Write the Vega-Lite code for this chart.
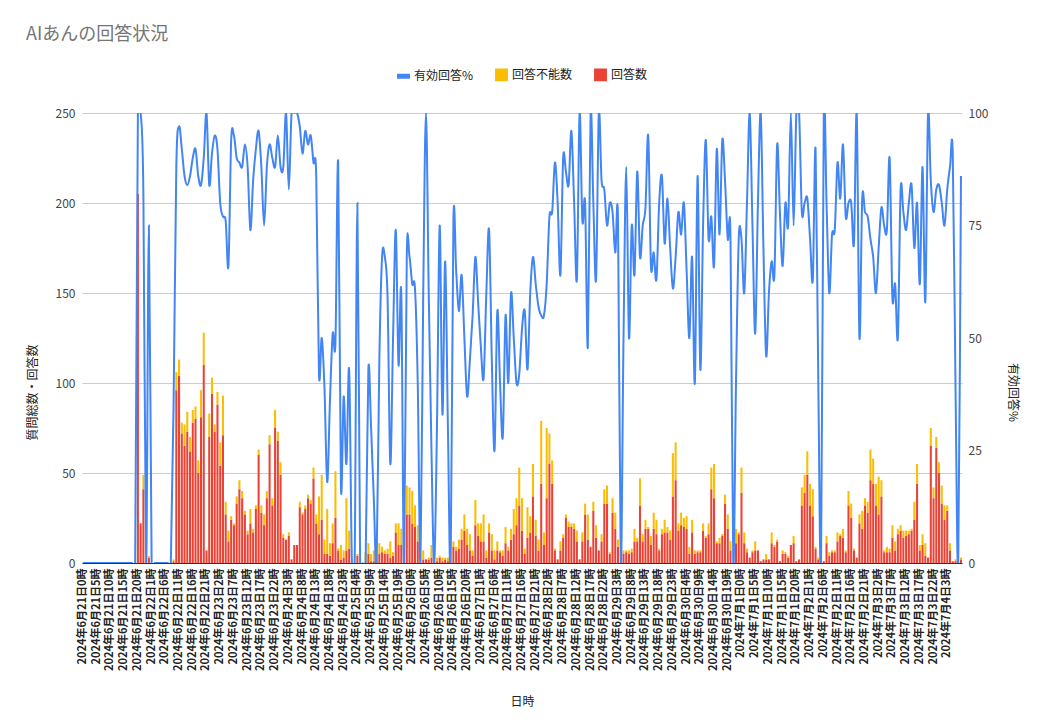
{
  "$schema": "https://vega.github.io/schema/vega-lite/v6.json",
  "width": 880,
  "height": 450,
  "autosize": "none",
  "padding": {"left": 82, "top": 113, "right": 85, "bottom": 158},
  "background": "white",
  "title": {
    "text": "AIあんの回答状況",
    "anchor": "start",
    "frame": "bounds",
    "fontSize": 18,
    "fontWeight": "normal",
    "color": "#757575",
    "offset": 24
  },
  "data": {
    "values": [
      {"日時": "2024年6月21日0時", "回答数": 0, "回答不能数": 0, "有効回答%": 0},
      {"日時": "2024年6月21日1時", "回答数": 0, "回答不能数": 0, "有効回答%": 0},
      {"日時": "2024年6月21日2時", "回答数": 0, "回答不能数": 0, "有効回答%": 0},
      {"日時": "2024年6月21日3時", "回答数": 0, "回答不能数": 0, "有効回答%": 0},
      {"日時": "2024年6月21日4時", "回答数": 0, "回答不能数": 0, "有効回答%": 0},
      {"日時": "2024年6月21日5時", "回答数": 0, "回答不能数": 0, "有効回答%": 0},
      {"日時": "2024年6月21日6時", "回答数": 0, "回答不能数": 0, "有効回答%": 0},
      {"日時": "2024年6月21日7時", "回答数": 0, "回答不能数": 0, "有効回答%": 0},
      {"日時": "2024年6月21日8時", "回答数": 0, "回答不能数": 0, "有効回答%": 0},
      {"日時": "2024年6月21日9時", "回答数": 0, "回答不能数": 0, "有効回答%": 0},
      {"日時": "2024年6月21日10時", "回答数": 0, "回答不能数": 0, "有効回答%": 0},
      {"日時": "2024年6月21日11時", "回答数": 0, "回答不能数": 0, "有効回答%": 0},
      {"日時": "2024年6月21日12時", "回答数": 0, "回答不能数": 0, "有効回答%": 0},
      {"日時": "2024年6月21日13時", "回答数": 0, "回答不能数": 0, "有効回答%": 0},
      {"日時": "2024年6月21日14時", "回答数": 0, "回答不能数": 0, "有効回答%": 0},
      {"日時": "2024年6月21日15時", "回答数": 0, "回答不能数": 0, "有効回答%": 0},
      {"日時": "2024年6月21日16時", "回答数": 0, "回答不能数": 0, "有効回答%": 0},
      {"日時": "2024年6月21日17時", "回答数": 0, "回答不能数": 0, "有効回答%": 0},
      {"日時": "2024年6月21日18時", "回答数": 0, "回答不能数": 0, "有効回答%": 0},
      {"日時": "2024年6月21日19時", "回答数": 0, "回答不能数": 0, "有効回答%": 0},
      {"日時": "2024年6月21日20時", "回答数": 205, "回答不能数": 0, "有効回答%": 100},
      {"日時": "2024年6月21日21時", "回答数": 22, "回答不能数": 0, "有効回答%": 100},
      {"日時": "2024年6月21日22時", "回答数": 41, "回答不能数": 8, "有効回答%": 82},
      {"日時": "2024年6月21日23時", "回答数": 0, "回答不能数": 0, "有効回答%": 0},
      {"日時": "2024年6月22日0時", "回答数": 3, "回答不能数": 1, "有効回答%": 75},
      {"日時": "2024年6月22日1時", "回答数": 0, "回答不能数": 0, "有効回答%": 0},
      {"日時": "2024年6月22日2時", "回答数": 0, "回答不能数": 0, "有効回答%": 0},
      {"日時": "2024年6月22日3時", "回答数": 0, "回答不能数": 0, "有効回答%": 0},
      {"日時": "2024年6月22日4時", "回答数": 0, "回答不能数": 0, "有効回答%": 0},
      {"日時": "2024年6月22日5時", "回答数": 0, "回答不能数": 0, "有効回答%": 0},
      {"日時": "2024年6月22日6時", "回答数": 0, "回答不能数": 0, "有効回答%": 0},
      {"日時": "2024年6月22日7時", "回答数": 0, "回答不能数": 0, "有効回答%": 0},
      {"日時": "2024年6月22日8時", "回答数": 0, "回答不能数": 0, "有効回答%": 0},
      {"日時": "2024年6月22日9時", "回答数": 1, "回答不能数": 1, "有効回答%": 35},
      {"日時": "2024年6月22日10時", "回答数": 96, "回答不能数": 10, "有効回答%": 88},
      {"日時": "2024年6月22日11時", "回答数": 104, "回答不能数": 9, "有効回答%": 97},
      {"日時": "2024年6月22日12時", "回答数": 72, "回答不能数": 6, "有効回答%": 92},
      {"日時": "2024年6月22日13時", "回答数": 65, "回答不能数": 12, "有効回答%": 86},
      {"日時": "2024年6月22日14時", "回答数": 73, "回答不能数": 11, "有効回答%": 84},
      {"日時": "2024年6月22日15時", "回答数": 62, "回答不能数": 8, "有効回答%": 86},
      {"日時": "2024年6月22日16時", "回答数": 78, "回答不能数": 7, "有効回答%": 90},
      {"日時": "2024年6月22日17時", "回答数": 80, "回答不能数": 7, "有効回答%": 92},
      {"日時": "2024年6月22日18時", "回答数": 50, "回答不能数": 7, "有効回答%": 86},
      {"日時": "2024年6月22日19時", "回答数": 81, "回答不能数": 15, "有効回答%": 84},
      {"日時": "2024年6月22日20時", "回答数": 110, "回答不能数": 18, "有効回答%": 90},
      {"日時": "2024年6月22日21時", "回答数": 7, "回答不能数": 0, "有効回答%": 100},
      {"日時": "2024年6月22日22時", "回答数": 70, "回答不能数": 13, "有効回答%": 84},
      {"日時": "2024年6月22日23時", "回答数": 94, "回答不能数": 9, "有効回答%": 91},
      {"日時": "2024年6月23日0時", "回答数": 73, "回答不能数": 4, "有効回答%": 95},
      {"日時": "2024年6月23日1時", "回答数": 88, "回答不能数": 7, "有効回答%": 92},
      {"日時": "2024年6月23日2時", "回答数": 54, "回答不能数": 13, "有効回答%": 80},
      {"日時": "2024年6月23日3時", "回答数": 71, "回答不能数": 22, "有効回答%": 77},
      {"日時": "2024年6月23日4時", "回答数": 27, "回答不能数": 7, "有効回答%": 76},
      {"日時": "2024年6月23日5時", "回答数": 12, "回答不能数": 6, "有効回答%": 66},
      {"日時": "2024年6月23日6時", "回答数": 24, "回答不能数": 2, "有効回答%": 94},
      {"日時": "2024年6月23日7時", "回答数": 21, "回答不能数": 1, "有効回答%": 95},
      {"日時": "2024年6月23日8時", "回答数": 33, "回答不能数": 4, "有効回答%": 90},
      {"日時": "2024年6月23日9時", "回答数": 41, "回答不能数": 5, "有効回答%": 89},
      {"日時": "2024年6月23日10時", "回答数": 36, "回答不能数": 4, "有効回答%": 88},
      {"日時": "2024年6月23日11時", "回答数": 27, "回答不能数": 2, "有効回答%": 93},
      {"日時": "2024年6月23日12時", "回答数": 16, "回答不能数": 2, "有効回答%": 88},
      {"日時": "2024年6月23日13時", "回答数": 22, "回答不能数": 8, "有効回答%": 74},
      {"日時": "2024年6月23日14時", "回答数": 17, "回答不能数": 2, "有効回答%": 85},
      {"日時": "2024年6月23日15時", "回答数": 30, "回答不能数": 2, "有効回答%": 92},
      {"日時": "2024年6月23日16時", "回答数": 60, "回答不能数": 3, "有効回答%": 96},
      {"日時": "2024年6月23日17時", "回答数": 28, "回答不能数": 4, "有効回答%": 88},
      {"日時": "2024年6月23日18時", "回答数": 21, "回答不能数": 6, "有効回答%": 75},
      {"日時": "2024年6月23日19時", "回答数": 36, "回答不能数": 4, "有効回答%": 88},
      {"日時": "2024年6月23日20時", "回答数": 66, "回答不能数": 5, "有効回答%": 93},
      {"日時": "2024年6月23日21時", "回答数": 32, "回答不能数": 4, "有効回答%": 90},
      {"日時": "2024年6月23日22時", "回答数": 75, "回答不能数": 10, "有効回答%": 88},
      {"日時": "2024年6月23日23時", "回答数": 68, "回答不能数": 5, "有効回答%": 95},
      {"日時": "2024年6月24日0時", "回答数": 49, "回答不能数": 7, "有効回答%": 88},
      {"日時": "2024年6月24日1時", "回答数": 14, "回答不能数": 2, "有効回答%": 88},
      {"日時": "2024年6月24日2時", "回答数": 13, "回答不能数": 0, "有効回答%": 100},
      {"日時": "2024年6月24日3時", "回答数": 15, "回答不能数": 2, "有効回答%": 83},
      {"日時": "2024年6月24日4時", "回答数": 2, "回答不能数": 0, "有効回答%": 100},
      {"日時": "2024年6月24日5時", "回答数": 10, "回答不能数": 0, "有効回答%": 100},
      {"日時": "2024年6月24日6時", "回答数": 10, "回答不能数": 0, "有効回答%": 100},
      {"日時": "2024年6月24日7時", "回答数": 31, "回答不能数": 3, "有効回答%": 97},
      {"日時": "2024年6月24日8時", "回答数": 27, "回答不能数": 1, "有効回答%": 91},
      {"日時": "2024年6月24日9時", "回答数": 30, "回答不能数": 2, "有効回答%": 96},
      {"日時": "2024年6月24日10時", "回答数": 36, "回答不能数": 2, "有効回答%": 93},
      {"日時": "2024年6月24日11時", "回答数": 33, "回答不能数": 2, "有効回答%": 95},
      {"日時": "2024年6月24日12時", "回答数": 47, "回答不能数": 6, "有効回答%": 89},
      {"日時": "2024年6月24日13時", "回答数": 22, "回答不能数": 5, "有効回答%": 86},
      {"日時": "2024年6月24日14時", "回答数": 16, "回答不能数": 21, "有効回答%": 42},
      {"日時": "2024年6月24日15時", "回答数": 24, "回答不能数": 25, "有効回答%": 50},
      {"日時": "2024年6月24日16時", "回答数": 5, "回答不能数": 8, "有効回答%": 39},
      {"日時": "2024年6月24日17時", "回答数": 5, "回答不能数": 25, "有効回答%": 18},
      {"日時": "2024年6月24日18時", "回答数": 4, "回答不能数": 7, "有効回答%": 36},
      {"日時": "2024年6月24日19時", "回答数": 11, "回答不能数": 11, "有効回答%": 51},
      {"日時": "2024年6月24日20時", "回答数": 25, "回答不能数": 26, "有効回答%": 49},
      {"日時": "2024年6月24日21時", "回答数": 7, "回答不能数": 1, "有効回答%": 89},
      {"日時": "2024年6月24日22時", "回答数": 2, "回答不能数": 8, "有効回答%": 17},
      {"日時": "2024年6月24日23時", "回答数": 3, "回答不能数": 4, "有効回答%": 37},
      {"日時": "2024年6月25日0時", "回答数": 7, "回答不能数": 29, "有効回答%": 22},
      {"日時": "2024年6月25日1時", "回答数": 8, "回答不能数": 10, "有効回答%": 43},
      {"日時": "2024年6月25日2時", "回答数": 0, "回答不能数": 1, "有効回答%": 0},
      {"日時": "2024年6月25日3時", "回答数": 0, "回答不能数": 0, "有効回答%": 0},
      {"日時": "2024年6月25日4時", "回答数": 4, "回答不能数": 1, "有効回答%": 80},
      {"日時": "2024年6月25日5時", "回答数": 0, "回答不能数": 0, "有効回答%": 0},
      {"日時": "2024年6月25日6時", "回答数": 0, "回答不能数": 0, "有効回答%": 0},
      {"日時": "2024年6月25日7時", "回答数": 0, "回答不能数": 6, "有効回答%": 0},
      {"日時": "2024年6月25日8時", "回答数": 5, "回答不能数": 6, "有効回答%": 43},
      {"日時": "2024年6月25日9時", "回答数": 1, "回答不能数": 4, "有効回答%": 30},
      {"日時": "2024年6月25日10時", "回答数": 1, "回答不能数": 6, "有効回答%": 14},
      {"日時": "2024年6月25日11時", "回答数": 1, "回答不能数": 11, "有効回答%": 0},
      {"日時": "2024年6月25日12時", "回答数": 5, "回答不能数": 6, "有効回答%": 45},
      {"日時": "2024年6月25日13時", "回答数": 6, "回答不能数": 3, "有効回答%": 68},
      {"日時": "2024年6月25日14時", "回答数": 5, "回答不能数": 2, "有効回答%": 68},
      {"日時": "2024年6月25日15時", "回答数": 5, "回答不能数": 3, "有効回答%": 59},
      {"日時": "2024年6月25日16時", "回答数": 3, "回答不能数": 9, "有効回答%": 22},
      {"日時": "2024年6月25日17時", "回答数": 4, "回答不能数": 2, "有効回答%": 50},
      {"日時": "2024年6月25日18時", "回答数": 17, "回答不能数": 5, "有効回答%": 74},
      {"日時": "2024年6月25日19時", "回答数": 10, "回答不能数": 12, "有効回答%": 44},
      {"日時": "2024年6月25日20時", "回答数": 10, "回答不能数": 9, "有効回答%": 60},
      {"日時": "2024年6月25日21時", "回答数": 18, "回答不能数": 14, "有効回答%": 0},
      {"日時": "2024年6月25日22時", "回答数": 27, "回答不能数": 16, "有効回答%": 68},
      {"日時": "2024年6月25日23時", "回答数": 27, "回答不能数": 15, "有効回答%": 68},
      {"日時": "2024年6月26日0時", "回答数": 22, "回答不能数": 18, "有効回答%": 62},
      {"日時": "2024年6月26日1時", "回答数": 20, "回答不能数": 12, "有効回答%": 61},
      {"日時": "2024年6月26日2時", "回答数": 12, "回答不能数": 9, "有効回答%": 40},
      {"日時": "2024年6月26日3時", "回答数": 0, "回答不能数": 0, "有効回答%": 0},
      {"日時": "2024年6月26日4時", "回答数": 2, "回答不能数": 5, "有効回答%": 60},
      {"日時": "2024年6月26日5時", "回答数": 2, "回答不能数": 0, "有効回答%": 100},
      {"日時": "2024年6月26日6時", "回答数": 2, "回答不能数": 1, "有効回答%": 60},
      {"日時": "2024年6月26日7時", "回答数": 3, "回答不能数": 7, "有効回答%": 25},
      {"日時": "2024年6月26日8時", "回答数": 0, "回答不能数": 0, "有効回答%": 0},
      {"日時": "2024年6月26日9時", "回答数": 1, "回答不能数": 2, "有効回答%": 30},
      {"日時": "2024年6月26日10時", "回答数": 3, "回答不能数": 1, "有効回答%": 75},
      {"日時": "2024年6月26日11時", "回答数": 1, "回答不能数": 2, "有効回答%": 33},
      {"日時": "2024年6月26日12時", "回答数": 2, "回答不能数": 1, "有効回答%": 67},
      {"日時": "2024年6月26日13時", "回答数": 1, "回答不能数": 2, "有効回答%": 30},
      {"日時": "2024年6月26日14時", "回答数": 0, "回答不能数": 0, "有効回答%": 0},
      {"日時": "2024年6月26日15時", "回答数": 9, "回答不能数": 3, "有効回答%": 76},
      {"日時": "2024年6月26日16時", "回答数": 7, "回答不能数": 2, "有効回答%": 65},
      {"日時": "2024年6月26日17時", "回答数": 8, "回答不能数": 5, "有効回答%": 56},
      {"日時": "2024年6月26日18時", "回答数": 13, "回答不能数": 6, "有効回答%": 64},
      {"日時": "2024年6月26日19時", "回答数": 18, "回答不能数": 9, "有効回答%": 50},
      {"日時": "2024年6月26日20時", "回答数": 10, "回答不能数": 9, "有効回答%": 37},
      {"日時": "2024年6月26日21時", "回答数": 7, "回答不能数": 9, "有効回答%": 45},
      {"日時": "2024年6月26日22時", "回答数": 4, "回答不能数": 3, "有効回答%": 55},
      {"日時": "2024年6月26日23時", "回答数": 21, "回答不能数": 14, "有効回答%": 68},
      {"日時": "2024年6月27日0時", "回答数": 15, "回答不能数": 7, "有効回答%": 58},
      {"日時": "2024年6月27日1時", "回答数": 12, "回答不能数": 10, "有効回答%": 48},
      {"日時": "2024年6月27日2時", "回答数": 12, "回答不能数": 15, "有効回答%": 41},
      {"日時": "2024年6月27日3時", "回答数": 3, "回答不能数": 4, "有効回答%": 60},
      {"日時": "2024年6月27日4時", "回答数": 17, "回答不能数": 5, "有効回答%": 74},
      {"日時": "2024年6月27日5時", "回答数": 7, "回答不能数": 9, "有効回答%": 45},
      {"日時": "2024年6月27日6時", "回答数": 2, "回答不能数": 5, "有効回答%": 25},
      {"日時": "2024年6月27日7時", "回答数": 7, "回答不能数": 5, "有効回答%": 56},
      {"日時": "2024年6月27日8時", "回答数": 6, "回答不能数": 1, "有効回答%": 40},
      {"日時": "2024年6月27日9時", "回答数": 4, "回答不能数": 3, "有効回答%": 28},
      {"日時": "2024年6月27日10時", "回答数": 11, "回答不能数": 9, "有効回答%": 55},
      {"日時": "2024年6月27日11時", "回答数": 7, "回答不能数": 2, "有効回答%": 40},
      {"日時": "2024年6月27日12時", "回答数": 13, "回答不能数": 6, "有効回答%": 60},
      {"日時": "2024年6月27日13時", "回答数": 16, "回答不能数": 14, "有効回答%": 50},
      {"日時": "2024年6月27日14時", "回答数": 21, "回答不能数": 15, "有効回答%": 40},
      {"日時": "2024年6月27日15時", "回答数": 32, "回答不能数": 21, "有効回答%": 42},
      {"日時": "2024年6月27日16時", "回答数": 18, "回答不能数": 18, "有効回答%": 52},
      {"日時": "2024年6月27日17時", "回答数": 5, "回答不能数": 3, "有効回答%": 56},
      {"日時": "2024年6月27日18時", "回答数": 14, "回答不能数": 17, "有効回答%": 43},
      {"日時": "2024年6月27日19時", "回答数": 17, "回答不能数": 9, "有効回答%": 60},
      {"日時": "2024年6月27日20時", "回答数": 37, "回答不能数": 18, "有効回答%": 68},
      {"日時": "2024年6月27日21時", "回答数": 15, "回答不能数": 9, "有効回答%": 62},
      {"日時": "2024年6月27日22時", "回答数": 7, "回答不能数": 6, "有効回答%": 57},
      {"日時": "2024年6月27日23時", "回答数": 44, "回答不能数": 35, "有効回答%": 55},
      {"日時": "2024年6月28日0時", "回答数": 10, "回答不能数": 7, "有効回答%": 55},
      {"日時": "2024年6月28日1時", "回答数": 36, "回答不能数": 39, "有効回答%": 62},
      {"日時": "2024年6月28日2時", "回答数": 55, "回答不能数": 17, "有効回答%": 77},
      {"日時": "2024年6月28日3時", "回答数": 44, "回答不能数": 13, "有効回答%": 78},
      {"日時": "2024年6月28日4時", "回答数": 7, "回答不能数": 1, "有効回答%": 89},
      {"日時": "2024年6月28日5時", "回答数": 2, "回答不能数": 0, "有効回答%": 80},
      {"日時": "2024年6月28日6時", "回答数": 7, "回答不能数": 5, "有効回答%": 64},
      {"日時": "2024年6月28日7時", "回答数": 14, "回答不能数": 2, "有効回答%": 90},
      {"日時": "2024年6月28日8時", "回答数": 25, "回答不能数": 2, "有効回答%": 87},
      {"日時": "2024年6月28日9時", "回答数": 20, "回答不能数": 3, "有効回答%": 84},
      {"日時": "2024年6月28日10時", "回答数": 20, "回答不能数": 2, "有効回答%": 96},
      {"日時": "2024年6月28日11時", "回答数": 19, "回答不能数": 3, "有効回答%": 80},
      {"日時": "2024年6月28日12時", "回答数": 12, "回答不能数": 6, "有効回答%": 63},
      {"日時": "2024年6月28日13時", "回答数": 2, "回答不能数": 0, "有効回答%": 100},
      {"日時": "2024年6月28日14時", "回答数": 12, "回答不能数": 5, "有効回答%": 76},
      {"日時": "2024年6月28日15時", "回答数": 27, "回答不能数": 6, "有効回答%": 80},
      {"日時": "2024年6月28日16時", "回答数": 13, "回答不能数": 14, "有効回答%": 48},
      {"日時": "2024年6月28日17時", "回答数": 9, "回答不能数": 0, "有効回答%": 100},
      {"日時": "2024年6月28日18時", "回答数": 29, "回答不能数": 5, "有効回答%": 80},
      {"日時": "2024年6月28日19時", "回答数": 14, "回答不能数": 7, "有効回答%": 63},
      {"日時": "2024年6月28日20時", "回答数": 7, "回答不能数": 0, "有効回答%": 100},
      {"日時": "2024年6月28日21時", "回答数": 12, "回答不能数": 4, "有効回答%": 85},
      {"日時": "2024年6月28日22時", "回答数": 33, "回答不能数": 8, "有効回答%": 83},
      {"日時": "2024年6月28日23時", "回答数": 33, "回答不能数": 10, "有効回答%": 75},
      {"日時": "2024年6月29日0時", "回答数": 5, "回答不能数": 1, "有効回答%": 80},
      {"日時": "2024年6月29日1時", "回答数": 28, "回答不能数": 8, "有効回答%": 78},
      {"日時": "2024年6月29日2時", "回答数": 19, "回答不能数": 9, "有効回答%": 69},
      {"日時": "2024年6月29日3時", "回答数": 9, "回答不能数": 4, "有効回答%": 76},
      {"日時": "2024年6月29日4時", "回答数": 0, "回答不能数": 0, "有効回答%": 0},
      {"日時": "2024年6月29日5時", "回答数": 5, "回答不能数": 2, "有効回答%": 50},
      {"日時": "2024年6月29日6時", "回答数": 6, "回答不能数": 1, "有効回答%": 88},
      {"日時": "2024年6月29日7時", "回答数": 5, "回答不能数": 2, "有効回答%": 50},
      {"日時": "2024年6月29日8時", "回答数": 6, "回答不能数": 2, "有効回答%": 75},
      {"日時": "2024年6月29日9時", "回答数": 12, "回答不能数": 7, "有効回答%": 64},
      {"日時": "2024年6月29日10時", "回答数": 12, "回答不能数": 2, "有効回答%": 87},
      {"日時": "2024年6月29日11時", "回答数": 32, "回答不能数": 15, "有効回答%": 68},
      {"日時": "2024年6月29日12時", "回答数": 12, "回答不能数": 4, "有効回答%": 75},
      {"日時": "2024年6月29日13時", "回答数": 19, "回答不能数": 5, "有効回答%": 79},
      {"日時": "2024年6月29日14時", "回答数": 19, "回答不能数": 1, "有効回答%": 95},
      {"日時": "2024年6月29日15時", "回答数": 10, "回答不能数": 5, "有効回答%": 66},
      {"日時": "2024年6月29日16時", "回答数": 19, "回答不能数": 9, "有効回答%": 69},
      {"日時": "2024年6月29日17時", "回答数": 16, "回答不能数": 8, "有効回答%": 63},
      {"日時": "2024年6月29日18時", "回答数": 7, "回答不能数": 1, "有効回答%": 80},
      {"日時": "2024年6月29日19時", "回答数": 16, "回答不能数": 3, "有効回答%": 86},
      {"日時": "2024年6月29日20時", "回答数": 17, "回答不能数": 7, "有効回答%": 71},
      {"日時": "2024年6月29日21時", "回答数": 17, "回答不能数": 3, "有効回答%": 81},
      {"日時": "2024年6月29日22時", "回答数": 13, "回答不能数": 5, "有効回答%": 70},
      {"日時": "2024年6月29日23時", "回答数": 37, "回答不能数": 24, "有効回答%": 61},
      {"日時": "2024年6月30日0時", "回答数": 46, "回答不能数": 21, "有効回答%": 68},
      {"日時": "2024年6月30日1時", "回答数": 18, "回答不能数": 4, "有効回答%": 78},
      {"日時": "2024年6月30日2時", "回答数": 21, "回答不能数": 7, "有効回答%": 73},
      {"日時": "2024年6月30日3時", "回答数": 20, "回答不能数": 5, "有効回答%": 80},
      {"日時": "2024年6月30日4時", "回答数": 19, "回答不能数": 7, "有効回答%": 65},
      {"日時": "2024年6月30日5時", "回答数": 5, "回答不能数": 4, "有効回答%": 50},
      {"日時": "2024年6月30日6時", "回答数": 17, "回答不能数": 7, "有効回答%": 68},
      {"日時": "2024年6月30日7時", "回答数": 5, "回答不能数": 2, "有効回答%": 40},
      {"日時": "2024年6月30日8時", "回答数": 6, "回答不能数": 1, "有効回答%": 86},
      {"日時": "2024年6月30日9時", "回答数": 6, "回答不能数": 1, "有効回答%": 43},
      {"日時": "2024年6月30日10時", "回答数": 18, "回答不能数": 4, "有効回答%": 75},
      {"日時": "2024年6月30日11時", "回答数": 14, "回答不能数": 1, "有効回答%": 94},
      {"日時": "2024年6月30日12時", "回答数": 16, "回答不能数": 6, "有効回答%": 72},
      {"日時": "2024年6月30日13時", "回答数": 41, "回答不能数": 12, "有効回答%": 77},
      {"日時": "2024年6月30日14時", "回答数": 36, "回答不能数": 19, "有効回答%": 66},
      {"日時": "2024年6月30日15時", "回答数": 11, "回答不能数": 1, "有効回答%": 92},
      {"日時": "2024年6月30日16時", "回答数": 11, "回答不能数": 3, "有効回答%": 73},
      {"日時": "2024年6月30日17時", "回答数": 15, "回答不能数": 1, "有効回答%": 94},
      {"日時": "2024年6月30日18時", "回答数": 33, "回答不能数": 5, "有効回答%": 85},
      {"日時": "2024年6月30日19時", "回答数": 19, "回答不能数": 8, "有効回答%": 72},
      {"日時": "2024年6月30日20時", "回答数": 7, "回答不能数": 5, "有効回答%": 72},
      {"日時": "2024年6月30日21時", "回答数": 0, "回答不能数": 0, "有効回答%": 0},
      {"日時": "2024年6月30日22時", "回答数": 11, "回答不能数": 8, "有効回答%": 40},
      {"日時": "2024年6月30日23時", "回答数": 16, "回答不能数": 1, "有効回答%": 72},
      {"日時": "2024年7月1日0時", "回答数": 39, "回答不能数": 14, "有効回答%": 72},
      {"日時": "2024年7月1日1時", "回答数": 11, "回答不能数": 6, "有効回答%": 60},
      {"日時": "2024年7月1日2時", "回答数": 6, "回答不能数": 2, "有効回答%": 80},
      {"日時": "2024年7月1日3時", "回答数": 3, "回答不能数": 0, "有効回答%": 100},
      {"日時": "2024年7月1日4時", "回答数": 6, "回答不能数": 1, "有効回答%": 75},
      {"日時": "2024年7月1日5時", "回答数": 7, "回答不能数": 5, "有効回答%": 51},
      {"日時": "2024年7月1日6時", "回答数": 7, "回答不能数": 0, "有効回答%": 80},
      {"日時": "2024年7月1日7時", "回答数": 1, "回答不能数": 0, "有効回答%": 100},
      {"日時": "2024年7月1日8時", "回答数": 2, "回答不能数": 0, "有効回答%": 70},
      {"日時": "2024年7月1日9時", "回答数": 2, "回答不能数": 3, "有効回答%": 46},
      {"日時": "2024年7月1日10時", "回答数": 2, "回答不能数": 0, "有効回答%": 60},
      {"日時": "2024年7月1日11時", "回答数": 11, "回答不能数": 6, "有効回答%": 67},
      {"日時": "2024年7月1日12時", "回答数": 9, "回答不能数": 1, "有効回答%": 64},
      {"日時": "2024年7月1日13時", "回答数": 12, "回答不能数": 1, "有効回答%": 93},
      {"日時": "2024年7月1日14時", "回答数": 1, "回答不能数": 0, "有効回答%": 78},
      {"日時": "2024年7月1日15時", "回答数": 5, "回答不能数": 2, "有効回答%": 66},
      {"日時": "2024年7月1日16時", "回答数": 5, "回答不能数": 1, "有効回答%": 80},
      {"日時": "2024年7月1日17時", "回答数": 3, "回答不能数": 1, "有効回答%": 75},
      {"日時": "2024年7月1日18時", "回答数": 10, "回答不能数": 0, "有効回答%": 100},
      {"日時": "2024年7月1日19時", "回答数": 11, "回答不能数": 4, "有効回答%": 75},
      {"日時": "2024年7月1日20時", "回答数": 1, "回答不能数": 0, "有効回答%": 100},
      {"日時": "2024年7月1日21時", "回答数": 2, "回答不能数": 0, "有効回答%": 100},
      {"日時": "2024年7月1日22時", "回答数": 32, "回答不能数": 10, "有効回答%": 78},
      {"日時": "2024年7月1日23時", "回答数": 39, "回答不能数": 10, "有効回答%": 80},
      {"日時": "2024年7月2日0時", "回答数": 49, "回答不能数": 13, "有効回答%": 81},
      {"日時": "2024年7月2日1時", "回答数": 32, "回答不能数": 12, "有効回答%": 72},
      {"日時": "2024年7月2日2時", "回答数": 26, "回答不能数": 15, "有効回答%": 63},
      {"日時": "2024年7月2日3時", "回答数": 8, "回答不能数": 1, "有効回答%": 92},
      {"日時": "2024年7月2日4時", "回答数": 2, "回答不能数": 1, "有効回答%": 40},
      {"日時": "2024年7月2日5時", "回答数": 0, "回答不能数": 0, "有効回答%": 0},
      {"日時": "2024年7月2日6時", "回答数": 1, "回答不能数": 0, "有効回答%": 100},
      {"日時": "2024年7月2日7時", "回答数": 11, "回答不能数": 4, "有効回答%": 80},
      {"日時": "2024年7月2日8時", "回答数": 4, "回答不能数": 2, "有効回答%": 60},
      {"日時": "2024年7月2日9時", "回答数": 6, "回答不能数": 1, "有効回答%": 73},
      {"日時": "2024年7月2日10時", "回答数": 6, "回答不能数": 1, "有効回答%": 74},
      {"日時": "2024年7月2日11時", "回答数": 12, "回答不能数": 5, "有効回答%": 89},
      {"日時": "2024年7月2日12時", "回答数": 15, "回答不能数": 1, "有効回答%": 81},
      {"日時": "2024年7月2日13時", "回答数": 14, "回答不能数": 5, "有効回答%": 93},
      {"日時": "2024年7月2日14時", "回答数": 6, "回答不能数": 1, "有効回答%": 77},
      {"日時": "2024年7月2日15時", "回答数": 32, "回答不能数": 8, "有効回答%": 80},
      {"日時": "2024年7月2日16時", "回答数": 25, "回答不能数": 8, "有効回答%": 80},
      {"日時": "2024年7月2日17時", "回答数": 7, "回答不能数": 1, "有効回答%": 71},
      {"日時": "2024年7月2日18時", "回答数": 3, "回答不能数": 0, "有効回答%": 100},
      {"日時": "2024年7月2日19時", "回答数": 22, "回答不能数": 5, "有効回答%": 50},
      {"日時": "2024年7月2日20時", "回答数": 19, "回答不能数": 10, "有効回答%": 81},
      {"日時": "2024年7月2日21時", "回答数": 32, "回答不能数": 4, "有効回答%": 78},
      {"日時": "2024年7月2日22時", "回答数": 28, "回答不能数": 6, "有効回答%": 77},
      {"日時": "2024年7月2日23時", "回答数": 46, "回答不能数": 17, "有効回答%": 72},
      {"日時": "2024年7月3日0時", "回答数": 44, "回答不能数": 14, "有効回答%": 68},
      {"日時": "2024年7月3日1時", "回答数": 32, "回答不能数": 12, "有効回答%": 60},
      {"日時": "2024年7月3日2時", "回答数": 27, "回答不能数": 21, "有効回答%": 70},
      {"日時": "2024年7月3日3時", "回答数": 37, "回答不能数": 9, "有効回答%": 79},
      {"日時": "2024年7月3日4時", "回答数": 6, "回答不能数": 1, "有効回答%": 75},
      {"日時": "2024年7月3日5時", "回答数": 6, "回答不能数": 3, "有効回答%": 74},
      {"日時": "2024年7月3日6時", "回答数": 6, "回答不能数": 2, "有効回答%": 90},
      {"日時": "2024年7月3日7時", "回答数": 14, "回答不能数": 7, "有効回答%": 59},
      {"日時": "2024年7月3日8時", "回答数": 7, "回答不能数": 5, "有効回答%": 62},
      {"日時": "2024年7月3日9時", "回答数": 16, "回答不能数": 3, "有効回答%": 50},
      {"日時": "2024年7月3日10時", "回答数": 18, "回答不能数": 3, "有効回答%": 83},
      {"日時": "2024年7月3日11時", "回答数": 14, "回答不能数": 4, "有効回答%": 78},
      {"日時": "2024年7月3日12時", "回答数": 15, "回答不能数": 3, "有効回答%": 74},
      {"日時": "2024年7月3日13時", "回答数": 16, "回答不能数": 2, "有効回答%": 80},
      {"日時": "2024年7月3日14時", "回答数": 18, "回答不能数": 1, "有効回答%": 84},
      {"日時": "2024年7月3日15時", "回答数": 24, "回答不能数": 10, "有効回答%": 70},
      {"日時": "2024年7月3日16時", "回答数": 44, "回答不能数": 11, "有効回答%": 80},
      {"日時": "2024年7月3日17時", "回答数": 7, "回答不能数": 3, "有効回答%": 62},
      {"日時": "2024年7月3日18時", "回答数": 10, "回答不能数": 6, "有効回答%": 88},
      {"日時": "2024年7月3日19時", "回答数": 4, "回答不能数": 7, "有効回答%": 58},
      {"日時": "2024年7月3日20時", "回答数": 3, "回答不能数": 0, "有効回答%": 100},
      {"日時": "2024年7月3日21時", "回答数": 65, "回答不能数": 10, "有効回答%": 85},
      {"日時": "2024年7月3日22時", "回答数": 36, "回答不能数": 6, "有効回答%": 78},
      {"日時": "2024年7月3日23時", "回答数": 64, "回答不能数": 6, "有効回答%": 83},
      {"日時": "2024年7月4日0時", "回答数": 50, "回答不能数": 6, "有効回答%": 84},
      {"日時": "2024年7月4日1時", "回答数": 33, "回答不能数": 10, "有効回答%": 80},
      {"日時": "2024年7月4日2時", "回答数": 24, "回答不能数": 8, "有効回答%": 75},
      {"日時": "2024年7月4日3時", "回答数": 29, "回答不能数": 3, "有効回答%": 83},
      {"日時": "2024年7月4日4時", "回答数": 7, "回答不能数": 4, "有効回答%": 88},
      {"日時": "2024年7月4日5時", "回答数": 1, "回答不能数": 0, "有効回答%": 91},
      {"日時": "2024年7月4日6時", "回答数": 1, "回答不能数": 1, "有効回答%": 40},
      {"日時": "2024年7月4日7時", "回答数": 0, "回答不能数": 0, "有効回答%": 0},
      {"日時": "2024年7月4日8時", "回答数": 2, "回答不能数": 1, "有効回答%": 86}
    ]
  },
  "encoding": {
    "x": {
      "field": "日時",
      "type": "ordinal",
      "sort": null,
      "scale": {"paddingInner": 0.25, "paddingOuter": 0},
      "axis": {
        "title": "日時",
        "values": [
          "2024年6月21日0時", "2024年6月21日5時", "2024年6月21日10時", "2024年6月21日15時", "2024年6月21日20時",
          "2024年6月22日1時", "2024年6月22日6時", "2024年6月22日11時", "2024年6月22日16時", "2024年6月22日21時",
          "2024年6月23日2時", "2024年6月23日7時", "2024年6月23日12時", "2024年6月23日17時", "2024年6月23日22時",
          "2024年6月24日3時", "2024年6月24日8時", "2024年6月24日13時", "2024年6月24日18時", "2024年6月24日23時",
          "2024年6月25日4時", "2024年6月25日9時", "2024年6月25日14時", "2024年6月25日19時",
          "2024年6月26日0時", "2024年6月26日5時", "2024年6月26日10時", "2024年6月26日15時", "2024年6月26日20時",
          "2024年6月27日1時", "2024年6月27日6時", "2024年6月27日11時", "2024年6月27日16時", "2024年6月27日21時",
          "2024年6月28日2時", "2024年6月28日7時", "2024年6月28日12時", "2024年6月28日17時", "2024年6月28日22時",
          "2024年6月29日3時", "2024年6月29日8時", "2024年6月29日13時", "2024年6月29日18時", "2024年6月29日23時",
          "2024年6月30日4時", "2024年6月30日9時", "2024年6月30日14時", "2024年6月30日19時",
          "2024年7月1日0時", "2024年7月1日5時", "2024年7月1日10時", "2024年7月1日15時", "2024年7月1日20時",
          "2024年7月2日1時", "2024年7月2日6時", "2024年7月2日11時", "2024年7月2日16時", "2024年7月2日21時",
          "2024年7月3日2時", "2024年7月3日7時", "2024年7月3日12時", "2024年7月3日17時", "2024年7月3日22時",
          "2024年7月4日3時"
        ],
        "labelAngle": -90,
        "labelFontWeight": "bold",
        "labelFontSize": 11,
        "labelColor": "#222222",
        "labelPadding": 5,
        "labelOverlap": false,
        "ticks": false,
        "grid": false,
        "domain": true,
        "domainColor": "#333333",
        "titleFontSize": 12,
        "titlePadding": 26
      }
    }
  },
  "layer": [
    {
      "transform": [{"fold": ["回答数", "回答不能数"], "as": ["系列", "件数"]}],
      "mark": {"type": "bar"},
      "encoding": {
        "y": {
          "field": "件数",
          "type": "quantitative",
          "stack": "zero",
          "scale": {"domain": [0, 250]},
          "axis": {
            "title": "質問総数・回答数",
            "values": [0, 50, 100, 150, 200, 250],
            "grid": true,
            "ticks": false,
            "domain": false,
            "labelFontSize": 12,
            "labelPadding": 7,
            "titleFontSize": 12,
            "titleX": -50,
            "titleY": 279,
            "titleAngle": -90,
            "titleAlign": "center",
            "titleBaseline": "middle"
          }
        },
        "color": {
          "field": "系列",
          "type": "nominal",
          "scale": {
            "domain": ["有効回答%", "回答不能数", "回答数"],
            "range": ["#4285f4", "#fbbc04", "#ea4335"]
          },
          "legend": {
            "title": null,
            "orient": "none",
            "legendX": 315,
            "legendY": -45,
            "direction": "horizontal",
            "labelFontSize": 12,
            "labelColor": "#222222",
            "symbolSize": 130,
            "columnPadding": 18,
            "encode": {
              "symbols": {
                "update": {
                  "shape": {"signal": "datum.value === '有効回答%' ? 'M-1,-0.3H1V0.3H-1Z' : 'square'"},
                  "fill": {"scale": "color", "field": "value"},
                  "stroke": {"value": "transparent"},
                  "opacity": {"value": 1}
                }
              }
            }
          }
        },
        "order": {"field": "系列", "sort": "descending"}
      }
    },
    {
      "mark": {"type": "line", "interpolate": "cardinal", "tension": 0, "clip": true, "strokeWidth": 2},
      "encoding": {
        "y": {
          "field": "有効回答%",
          "type": "quantitative",
          "scale": {"domain": [0, 100]},
          "axis": {
            "orient": "right",
            "title": "有効回答%",
            "values": [0, 25, 50, 75, 100],
            "grid": false,
            "ticks": false,
            "domain": false,
            "labelFontSize": 12,
            "labelPadding": 6,
            "titleFontSize": 12,
            "titleX": 50,
            "titleY": 279,
            "titleAngle": 90,
            "titleAlign": "center",
            "titleBaseline": "middle"
          }
        },
        "color": {"datum": "有効回答%", "type": "nominal"}
      }
    }
  ],
  "resolve": {"scale": {"y": "independent"}},
  "config": {
    "font": "Noto Sans CJK JP",
    "view": {"stroke": null},
    "axis": {"gridColor": "#cccccc", "labelColor": "#444444", "titleColor": "#222222", "titleFontWeight": "normal"}
  }
}
